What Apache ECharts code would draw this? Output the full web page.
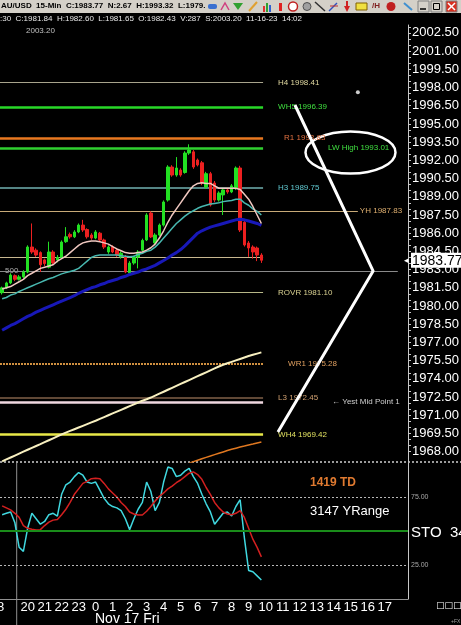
<!DOCTYPE html>
<html>
<head>
<meta charset="utf-8">
<title>AU/USD 15-Min</title>
<script src="https://cdn.jsdelivr.net/npm/echarts@6/dist/echarts.min.js"></script>
<style>
  html, body { margin: 0; padding: 0; background: #000; }
  #chart { width: 461px; height: 625px; }
</style>
</head>
<body>
<div id="chart"></div>
<script>
// 15-min bars, slot 0 = 18:30 (Nov 16), slot 22 = 00:00 (Nov 17)
const barOpen = [
  1981.10, 1981.50, 1981.90, 1982.50, 1982.20, 1982.40, 1982.80, 1984.86, 1984.60, 1984.40,
  1983.80, 1983.20, 1984.45, 1983.80, 1984.00, 1985.30, 1985.90, 1985.70, 1986.10, 1986.67,
  1986.30, 1985.85, 1985.60, 1986.00, 1985.44, 1984.45, 1984.86, 1984.60, 1984.05, 1984.04,
  1982.72, 1983.54, 1984.04, 1984.60, 1985.44, 1987.66, 1985.20, 1985.85, 1986.67, 1988.73,
  1991.45, 1990.79, 1991.20, 1991.00, 1992.60, 1992.70, 1992.03, 1991.80, 1989.80, 1990.90,
  1990.13, 1988.73, 1989.15, 1989.56, 1989.40, 1989.70, 1991.37, 1986.90, 1985.19, 1984.86,
  1984.78, 1984.20
]
const barClose = [
  1981.50, 1981.90, 1982.55, 1982.20, 1982.40, 1982.80, 1984.86, 1984.45, 1984.20, 1983.40,
  1983.50, 1984.45, 1983.55, 1984.00, 1985.27, 1985.70, 1985.70, 1986.10, 1986.67, 1986.26,
  1985.70, 1985.60, 1986.10, 1985.44, 1984.86, 1984.86, 1984.45, 1984.20, 1984.35, 1982.80,
  1983.54, 1984.04, 1984.45, 1985.40, 1987.50, 1985.69, 1985.85, 1986.67, 1988.57, 1991.45,
  1990.79, 1991.37, 1990.79, 1992.60, 1992.85, 1991.45, 1991.62, 1990.13, 1990.90, 1988.32,
  1988.73, 1989.31, 1989.56, 1989.40, 1989.90, 1991.37, 1986.26, 1985.03, 1984.78, 1984.45,
  1984.20, 1983.77
]
const barLow = [
  1980.95, 1981.40, 1981.80, 1982.05, 1982.10, 1982.30, 1982.70, 1984.30, 1984.05, 1982.80,
  1983.30, 1983.10, 1983.40, 1983.60, 1983.90, 1985.20, 1985.55, 1985.60, 1986.00, 1986.10,
  1985.55, 1985.45, 1985.50, 1985.30, 1984.70, 1984.30, 1984.35, 1984.05, 1983.90, 1982.70,
  1982.60, 1983.40, 1983.10, 1984.50, 1985.35, 1985.60, 1985.10, 1985.75, 1986.55, 1988.60,
  1990.65, 1990.65, 1990.65, 1990.90, 1992.45, 1991.30, 1991.50, 1989.95, 1989.65, 1988.20,
  1988.55, 1988.60, 1987.50, 1989.25, 1989.30, 1989.55, 1986.10, 1984.90, 1984.05, 1983.90,
  1983.70, 1983.55
]
const barHigh = [
  1981.60, 1982.00, 1982.70, 1982.60, 1982.55, 1982.95, 1985.00, 1986.80, 1984.75, 1984.50,
  1983.90, 1985.30, 1984.60, 1984.20, 1985.40, 1986.50, 1986.05, 1986.25, 1986.80, 1987.10,
  1986.40, 1986.00, 1986.25, 1986.10, 1985.55, 1985.00, 1985.00, 1984.70, 1984.50, 1984.20,
  1983.70, 1984.15, 1984.60, 1985.55, 1987.65, 1987.80, 1986.00, 1986.80, 1988.70, 1991.60,
  1991.60, 1992.27, 1991.35, 1992.75, 1993.32, 1992.85, 1992.15, 1991.95, 1991.05, 1991.05,
  1990.30, 1989.45, 1989.70, 1989.75, 1990.05, 1991.50, 1991.55, 1987.10, 1985.35, 1985.00,
  1984.90, 1984.35
]

// moving averages
const maFast = [
  1981.40, 1981.50, 1981.60, 1981.80, 1982.00, 1982.20, 1982.50, 1982.70, 1982.90, 1983.10,
  1983.20, 1983.30, 1983.40, 1983.70, 1983.90, 1984.10, 1984.40, 1984.70, 1985.00, 1985.20,
  1985.30, 1985.35, 1985.35, 1985.30, 1985.20, 1985.10, 1984.90, 1984.70, 1984.55, 1984.40,
  1984.35, 1984.35, 1984.40, 1984.45, 1984.60, 1984.80, 1985.10, 1985.60, 1986.20, 1986.90,
  1987.50, 1988.00, 1988.50, 1989.00, 1989.50, 1989.90, 1990.10, 1990.15, 1990.10, 1990.10,
  1989.90, 1989.70, 1989.70, 1989.70, 1989.70, 1989.70, 1989.60, 1989.20, 1988.80, 1988.20,
  1987.50, 1986.80
]
const maMid = [
  1980.60, 1980.70, 1980.90, 1981.00, 1981.20, 1981.35, 1981.50, 1981.65, 1981.80, 1981.95,
  1982.10, 1982.25, 1982.35, 1982.50, 1982.65, 1982.75, 1982.85, 1982.95, 1983.10, 1983.40,
  1983.70, 1984.00, 1984.15, 1984.20, 1984.20, 1984.20, 1984.20, 1984.20, 1984.15, 1984.10,
  1984.05, 1984.10, 1984.25, 1984.35, 1984.50, 1984.60, 1984.85, 1985.20, 1985.60, 1986.00,
  1986.40, 1986.80, 1987.10, 1987.40, 1987.65, 1987.85, 1988.05, 1988.20, 1988.30, 1988.40,
  1988.45, 1988.50, 1988.60, 1988.65, 1988.70, 1988.80, 1988.80, 1988.50, 1988.30, 1988.00,
  1987.80, 1987.50
]
const maSlow = [
  1978.00, 1978.20, 1978.40, 1978.55, 1978.75, 1978.95, 1979.15, 1979.30, 1979.50, 1979.65,
  1979.80, 1979.95, 1980.10, 1980.25, 1980.40, 1980.55, 1980.70, 1980.85, 1981.05, 1981.20,
  1981.35, 1981.50, 1981.60, 1981.75, 1981.85, 1982.00, 1982.10, 1982.20, 1982.35, 1982.45,
  1982.60, 1982.70, 1982.80, 1982.95, 1983.05, 1983.20, 1983.35, 1983.55, 1983.75, 1983.95,
  1984.20, 1984.40, 1984.65, 1984.95, 1985.30, 1985.65, 1986.00, 1986.20, 1986.35, 1986.50,
  1986.60, 1986.70, 1986.80, 1986.90, 1987.00, 1987.10, 1987.15, 1987.10, 1987.00, 1986.90,
  1986.80, 1986.65
]
const maLong = [
  1967.20, 1967.36, 1967.52, 1967.68, 1967.84, 1968.00, 1968.16, 1968.32, 1968.47, 1968.62,
  1968.78, 1968.94, 1969.10, 1969.26, 1969.42, 1969.57, 1969.71, 1969.85, 1969.99, 1970.13,
  1970.27, 1970.41, 1970.55, 1970.70, 1970.85, 1971.00, 1971.15, 1971.30, 1971.45, 1971.60,
  1971.75, 1971.90, 1972.05, 1972.20, 1972.32, 1972.46, 1972.62, 1972.78, 1972.94, 1973.10,
  1973.26, 1973.42, 1973.58, 1973.74, 1973.90, 1974.06, 1974.22, 1974.38, 1974.54, 1974.70,
  1974.86, 1975.02, 1975.16, 1975.28, 1975.40, 1975.52, 1975.64, 1975.76, 1975.88, 1975.98,
  1976.08, 1976.18
]
// orange line only visible from slot 44 on
const trailStart = 44
const maTrail = [
  1967.05, 1967.18, 1967.30, 1967.42, 1967.53, 1967.64, 1967.76, 1967.87, 1967.98, 1968.09,
  1968.20, 1968.29, 1968.38, 1968.46, 1968.55, 1968.63, 1968.72, 1968.80
]

// stochastic
const stochK = [
  62, 63, 64, 56, 38, 35, 52, 63, 59, 55,
  57, 62, 63, 61, 77, 84, 86, 90, 93, 91,
  86, 85, 86, 80, 74, 70, 68, 67, 65, 59,
  51, 59, 66, 71, 86, 79, 65, 71, 86, 97,
  96, 90, 91, 94, 96, 90, 85, 77, 70, 64,
  55, 59, 63, 64, 61, 68, 73, 45, 21, 20,
  17, 14
]
const stochD = [
  68.5, 67, 65.5, 63, 60, 54, 52, 51.3, 50.8, 51,
  54, 56.5, 58, 58.5, 62, 66, 71, 77, 81, 85,
  86.5, 88.5, 88.7, 88.5, 85, 81, 78, 75, 71, 68,
  64, 62.5, 61.8, 61.8, 64.5, 68, 72, 75.5, 78, 81,
  83, 85.5, 87.5, 90, 92.5, 93.5, 91.5, 88, 82, 77,
  71, 67, 64, 62.5, 62, 63, 65, 60, 52, 44,
  38, 31
]

// pivot / reference levels
const levelNames = ['H4', 'WH5', 'R1', 'LW High', 'H3', 'YH', '', '', 'ROVR', 'WR1', 'L3', 'Yest Mid Point 1', 'WH4']
const levelPrices = [1998.41, 1996.39, 1993.83, 1993.01, 1989.75, 1987.83, 1984.00, 1982.88, 1981.10, 1975.28, 1972.45, 1972.09, 1969.42]

// hand drawn trend lines [slot, price]
const drawnLine = [[68.9, 1996.56], [87.3, 1982.88], [64.9, 1969.62]]
const drawnDot = [[83.7, 1997.6]]

// axis labels
const priceTicks = [1968.00, 1969.50, 1971.00, 1972.50, 1974.00, 1975.50, 1977.00, 1978.50, 1980.00, 1981.50,
  1983.00, 1984.50, 1986.00, 1987.50, 1989.00, 1990.50, 1992.00, 1993.50, 1995.00, 1996.50,
  1998.00, 1999.50, 2001.00, 2002.50]
const hourLabels = ['20', '21', '22', '23', '0', '1', '2', '3', '4', '5', '6', '7', '8', '9', '10', '11', '12', '13', '14', '15', '16', '17']
const stochTicks = [25, 75]

const lastClose = barClose[barClose.length - 1]

// look of each level: line colour, width, dash, text colour, end slot, label gap
const levelLook = [
  { c: '#a8a48c', w: 1, t: 'solid', tc: '#e0d8a0', end: 61.4, gap: 15 },
  { c: '#28d828', w: 2.5, t: 'solid', tc: '#40e040', end: 61.4, gap: 15 },
  { c: '#e87820', w: 2.5, t: 'solid', tc: '#e07040', end: 61.4, gap: 21 },
  { c: '#30d030', w: 2.5, t: 'solid', tc: '#40e040', end: 61.4, gap: 65 },
  { c: '#70b0b0', w: 1.5, t: 'solid', tc: '#60c8d0', end: 61.4, gap: 15 },
  { c: '#c8aa78', w: 1, t: 'solid', tc: '#e0b070', end: 83.7, gap: 2 },
  { c: '#c8b890', w: 1, t: 'solid', tc: '#c8b890', end: 61.4, gap: 15 },
  { c: '#8a8a8a', w: 1, t: 'solid', tc: '#8a8a8a', end: 93.1, gap: 15 },
  { c: '#b8b888', w: 1, t: 'solid', tc: '#d8d090', end: 61.4, gap: 15 },
  { c: '#d09040', w: 2, t: [2, 1], tc: '#e0a060', end: 61.4, gap: 25 },
  { c: '#806048', w: 1.5, t: 'solid', tc: '#d0a070', end: 61.4, gap: 15 },
  { c: '#f0d8e0', w: 2.5, t: 'solid', tc: '#d0d0d0', end: 61.4, gap: 69 },
  { c: '#e8e848', w: 2.5, t: 'solid', tc: '#e0e060', end: 61.4, gap: 15 }
]

const levelLines = levelPrices.map((p, i) => {
  const look = levelLook[i]
  const name = levelNames[i]
  let text = ''
  if (name === 'Yest Mid Point 1') text = '\u2190 ' + name
  else if (name) text = name + ' ' + p.toFixed(2)
  return [
    {
      coord: [-0.5, p],
      lineStyle: { color: look.c, width: look.w, type: look.t },
      label: {
        show: !!text,
        position: 'end',
        distance: look.gap,
        formatter: text,
        color: look.tc,
        fontSize: 8,
        fontFamily: 'Liberation Sans'
      }
    },
    { coord: [look.end, p] }
  ]
})

const minorTicks = []
priceTicks.forEach(v => { minorTicks.push(v, v + 0.5, v + 1) })

const chartDom = document.getElementById('chart')
const myChart = echarts.init(chartDom, null, { renderer: 'canvas' })

const lineBase = {
  type: 'line',
  xAxisIndex: 0,
  yAxisIndex: 0,
  showSymbol: false,
  symbol: 'none',
  silent: true,
  animation: false,
  z: 3
}

const option = {
  backgroundColor: '#000',
  animation: false,
  grid: [
    { left: 0, right: 53, top: 25, bottom: 163, outerBoundsMode: 'none' },
    { left: 0, right: 53, top: 463, bottom: 26, outerBoundsMode: 'none' }
  ],
  xAxis: [
    {
      type: 'value', gridIndex: 0, min: -0.5, max: 95.5,
      axisLine: { show: false }, axisTick: { show: false },
      axisLabel: { show: false }, splitLine: { show: false }
    },
    {
      type: 'value', gridIndex: 1, min: -0.5, max: 95.5,
      axisLine: { show: true, onZero: false, lineStyle: { color: '#909090' } },
      axisTick: { show: false },
      splitLine: { show: false },
      axisLabel: {
        customValues: hourLabels.map((h, k) => 6 + 4 * k),
        formatter: v => hourLabels[Math.round((v - 6) / 4)],
        color: '#fff',
        fontSize: 13,
        fontFamily: 'Liberation Sans',
        margin: 2
      }
    }
  ],
  yAxis: [
    {
      type: 'value', gridIndex: 0, position: 'right',
      min: 1967.15, max: 2003.15,
      axisLine: { show: true, onZero: false, lineStyle: { color: '#c8c8c8' } },
      axisTick: { show: true, customValues: minorTicks, length: 3, lineStyle: { color: '#c8c8c8' } },
      axisLabel: {
        customValues: priceTicks,
        formatter: v => v.toFixed(2),
        color: '#fff',
        fontSize: 13,
        fontFamily: 'Liberation Sans',
        margin: 4
      },
      splitLine: { show: false }
    },
    {
      type: 'value', gridIndex: 1, position: 'right',
      min: 0, max: 100,
      axisLine: { show: true, onZero: false, lineStyle: { color: '#c8c8c8' } },
      axisTick: { show: false },
      axisLabel: {
        customValues: stochTicks,
        formatter: v => v.toFixed(2),
        color: '#a8a8a8',
        fontSize: 7,
        fontFamily: 'Liberation Sans',
        margin: 3
      },
      splitLine: { show: false }
    }
  ],
  series: [
    {
      type: 'candlestick',
      xAxisIndex: 0,
      yAxisIndex: 0,
      encode: { x: 0, y: [1, 2, 3, 4] },
      data: barOpen.map((o, i) => [i, o, barClose[i], barLow[i], barHigh[i]]),
      barWidth: 3,
      silent: true,
      z: 2,
      itemStyle: {
        color: '#22e022',
        color0: '#ec2020',
        borderColor: '#22e022',
        borderColor0: '#ec2020',
        borderWidth: 1
      },
      markLine: {
        silent: true,
        symbol: ['none', 'none'],
        animation: false,
        z: 1,
        data: levelLines
      }
    },
    Object.assign({}, lineBase, {
      data: maLong.map((v, i) => [i, v]),
      lineStyle: { color: '#f8f0c0', width: 2 }
    }),
    Object.assign({}, lineBase, {
      data: maTrail.map((v, i) => [trailStart + i, v]),
      lineStyle: { color: '#e07820', width: 1.5 }
    }),
    Object.assign({}, lineBase, {
      data: maSlow.map((v, i) => [i, v]),
      lineStyle: { color: '#1818b8', width: 3 }
    }),
    Object.assign({}, lineBase, {
      data: maMid.map((v, i) => [i, v]),
      lineStyle: { color: '#48b8b0', width: 1.5 }
    }),
    Object.assign({}, lineBase, {
      data: maFast.map((v, i) => [i, v]),
      lineStyle: { color: '#f0c8c0', width: 1.5 },
      markLine: {
        silent: true,
        symbol: ['none', 'none'],
        animation: false,
        z: 10,
        lineStyle: { color: 'rgba(0,0,0,0)', width: 0.1, type: 'solid' },
        data: [{ yAxis: lastClose }],
        label: {
          show: true,
          position: 'end',
          distance: -4,
          formatter: '{a|\u25C2}{b|' + lastClose.toFixed(2) + '}',
          rich: {
            a: { color: '#fff', fontSize: 9, padding: [0, 2, 0, 0] },
            b: {
              color: '#000', backgroundColor: '#fff', fontSize: 14,
              fontFamily: 'Liberation Sans', padding: [1, 1, 0, 1]
            }
          }
        }
      }
    }),
    Object.assign({}, lineBase, {
      data: drawnLine,
      lineStyle: { color: '#fff', width: 3 },
      z: 5
    }),
    {
      type: 'scatter',
      xAxisIndex: 0,
      yAxisIndex: 0,
      data: drawnDot,
      symbolSize: 4,
      silent: true,
      itemStyle: { color: '#fff' }
    },
    {
      type: 'line',
      xAxisIndex: 1,
      yAxisIndex: 1,
      showSymbol: false,
      silent: true,
      data: stochK.map((v, i) => [i, v]),
      lineStyle: { color: '#40d8e0', width: 1.5 },
      z: 3,
      markLine: {
        silent: true,
        symbol: ['none', 'none'],
        animation: false,
        label: { show: false },
        data: [
          { yAxis: 75, lineStyle: { type: [2, 2], color: '#b8b8b8', width: 1 } },
          { yAxis: 25, lineStyle: { type: [2, 2], color: '#b8b8b8', width: 1 } },
          { yAxis: 50, lineStyle: { type: 'solid', color: '#1a8c1a', width: 2 } }
        ]
      }
    },
    {
      type: 'line',
      xAxisIndex: 1,
      yAxisIndex: 1,
      showSymbol: false,
      silent: true,
      data: stochD.map((v, i) => [i, v]),
      lineStyle: { color: '#d42020', width: 1.5 },
      z: 3
    }
  ],
  graphic: [
    // title bar
    { type: 'rect', left: 0, top: 0, shape: { width: 461, height: 13 }, style: { fill: '#d4d0c8' }, silent: true },
    {
      type: 'text', left: 1, top: 2,
      style: { text: 'AU/USD  15-Min  C:1983.77  N:2.67  H:1993.32  L:1979.1:', fill: '#000', font: 'bold 8px Liberation Sans' }
    },
    { type: 'rect', shape: { x: 205, y: 0, width: 256, height: 13 }, style: { fill: '#d4d0c8' }, silent: true },
    { type: 'rect', shape: { x: 208, y: 4, width: 9, height: 5, r: 2 }, style: { fill: '#3a70d0' } },
    { type: 'polyline', shape: { points: [[221, 10], [225, 3], [229, 10]] }, style: { stroke: '#d04080', fill: null, lineWidth: 1.5 } },
    { type: 'polygon', shape: { points: [[233, 3], [243, 3], [238, 10]] }, style: { fill: '#30a030' } },
    { type: 'line', shape: { x1: 249, y1: 11, x2: 257, y2: 2 }, style: { stroke: '#e0a030', lineWidth: 2 } },
    { type: 'rect', shape: { x: 263, y: 6, width: 2, height: 6 }, style: { fill: '#e03030' } },
    { type: 'rect', shape: { x: 266, y: 3, width: 2, height: 9 }, style: { fill: '#30a030' } },
    { type: 'rect', shape: { x: 269, y: 5, width: 2, height: 7 }, style: { fill: '#3060d0' } },
    { type: 'rect', shape: { x: 279, y: 3, width: 3, height: 8 }, style: { fill: '#e02020' } },
    { type: 'circle', shape: { cx: 293, cy: 6.5, r: 4.5 }, style: { fill: '#fff', stroke: '#c02020', lineWidth: 1.5 } },
    { type: 'circle', shape: { cx: 307, cy: 6.5, r: 4 }, style: { fill: '#a0a0a0', stroke: '#505050' } },
    { type: 'line', shape: { x1: 315, y1: 2, x2: 325, y2: 11 }, style: { stroke: '#303030', lineWidth: 1.5 } },
    { type: 'polyline', shape: { points: [[329, 11], [337, 3]] }, style: { stroke: '#3050c0', lineWidth: 1.5 } },
    { type: 'line', shape: { x1: 330, y1: 6, x2: 338, y2: 6 }, style: { stroke: '#c03030' } },
    { type: 'polygon', shape: { points: [[344, 6], [350, 6], [347, 12]] }, style: { fill: '#d02020' } },
    { type: 'rect', shape: { x: 346, y: 1, width: 2, height: 5 }, style: { fill: '#d02020' } },
    { type: 'rect', shape: { x: 356, y: 3, width: 11, height: 7 }, style: { fill: '#f0e040', stroke: '#806000' } },
    { type: 'text', left: 372, top: 2, style: { text: '/H', fill: '#802020', font: 'bold 8px Liberation Sans' } },
    { type: 'circle', shape: { cx: 391, cy: 6.5, r: 4.5 }, style: { fill: '#c02020' } },
    { type: 'line', shape: { x1: 404, y1: 3, x2: 412, y2: 10 }, style: { stroke: '#4090d0', lineWidth: 2 } },
    { type: 'rect', shape: { x: 418, y: 1, width: 11, height: 11 }, style: { fill: '#d4d0c8', stroke: '#808080' } },
    { type: 'line', shape: { x1: 420, y1: 9, x2: 426, y2: 9 }, style: { stroke: '#000', lineWidth: 1.5 } },
    { type: 'rect', shape: { x: 431, y: 1, width: 11, height: 11 }, style: { fill: '#d4d0c8', stroke: '#808080' } },
    { type: 'rect', shape: { x: 433.5, y: 3.5, width: 6, height: 6 }, style: { fill: null, stroke: '#000' } },
    { type: 'rect', shape: { x: 446, y: 1, width: 11, height: 11 }, style: { fill: '#d83020', stroke: '#808080' } },
    { type: 'line', shape: { x1: 448, y1: 3, x2: 455, y2: 10 }, style: { stroke: '#fff', lineWidth: 1.5 } },
    { type: 'line', shape: { x1: 455, y1: 3, x2: 448, y2: 10 }, style: { stroke: '#fff', lineWidth: 1.5 } },
    // data line
    {
      type: 'text', left: 0, top: 15,
      style: { text: ':30  C:1981.84  H:1982.60  L:1981.65  O:1982.43  V:287  S:2003.20  11-16-23  14:02', fill: '#e8e8e8', font: '8px Liberation Sans' }
    },
    { type: 'text', left: 26, top: 27, style: { text: '2003.20', fill: '#c0c0c0', font: '8px Liberation Sans' } },
    { type: 'text', left: 5, top: 267, style: { text: '500', fill: '#b0b0b0', font: '8px Liberation Sans' } },
    // panel separator
    { type: 'line', shape: { x1: 0, y1: 462, x2: 461, y2: 462 }, style: { stroke: '#d0d0d0', lineWidth: 1.5, lineDash: [2, 2] }, silent: true },
    // ellipse annotation
    { type: 'ellipse', shape: { cx: 350.5, cy: 152.5, rx: 45, ry: 21 }, style: { fill: null, stroke: '#fff', lineWidth: 2.5 }, silent: true },
    // day divider
    { type: 'line', shape: { x1: 16.7, y1: 463, x2: 16.7, y2: 625 }, style: { stroke: '#909090', lineWidth: 1 }, silent: true },
    // stochastic texts
    { type: 'text', left: 310, top: 477, style: { text: '1419 TD', fill: '#e07a30', font: 'bold 12px Liberation Sans' } },
    { type: 'text', left: 310, top: 505, style: { text: '3147 YRange', fill: '#ffffff', font: '13px Liberation Sans' } },
    { type: 'text', left: 411, top: 525, style: { text: 'STO  34,', fill: '#ffffff', font: '15px Liberation Sans' } },
    // bottom texts
    { type: 'text', left: -3, top: 601, style: { text: '8', fill: '#ffffff', font: '13px Liberation Sans' } },
    { type: 'text', left: 95, top: 612, style: { text: 'Nov 17 Fri', fill: '#ffffff', font: '14px Liberation Sans' } },
    { type: 'text', left: 436, top: 601, style: { text: '\u25A1\u25A1\u25A1', fill: '#ffffff', font: '9px DejaVu Sans' } },
    { type: 'text', left: 451, top: 619, style: { text: '+FX', fill: '#a0a0a0', font: '5px Liberation Sans' } }
  ]
}

myChart.setOption(option)
</script>
</body>
</html>
